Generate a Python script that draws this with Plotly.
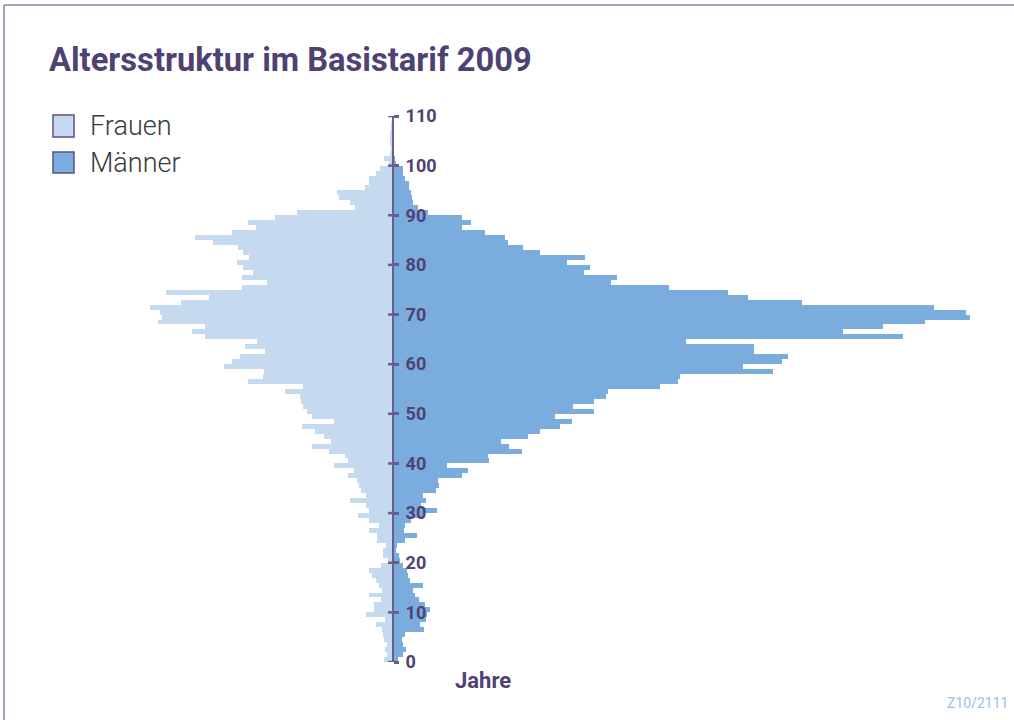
import plotly.graph_objects as go

# ---------------- data ----------------
ages = list(range(0, 110))

frauen = [9, 6, 8, 6, 9, 10, 11, 17, 8, 27,
          19, 19, 12, 24, 11, 14, 17, 21, 24, 12,
          5, 10, 10, 7, 16, 16, 24, 14, 24, 35,
          24, 27, 43, 27, 32, 34, 36, 45, 39, 59,
          45, 48, 64, 81, 62, 69, 78, 91, 59, 81,
          86, 90, 92, 93, 108, 90, 145, 130, 129, 169,
          161, 153, 128, 148, 136, 188, 201, 188, 235, 231,
          233, 243, 212, 184, 227, 151, 126, 151, 140, 150,
          156, 144, 150, 155, 180, 198, 161, 137, 145, 118,
          96, 38, 43, 54, 56, 28, 24, 24, 17, 13,
          4, 9, 3, 2, 3, 3, 3, 2, 2, 1]

maenner = [5, 10, 13, 10, 9, 12, 31, 27, 33, 34,
           37, 32, 26, 22, 20, 30, 17, 15, 14, 10,
           7, 6, 3, 4, 12, 24, 11, 12, 18, 30,
           44, 28, 33, 30, 43, 46, 45, 69, 75, 54,
           96, 95, 129, 116, 108, 135, 147, 167, 179, 162,
           201, 180, 201, 213, 215, 267, 285, 287, 380, 350,
           389, 395, 361, 361, 293, 510, 450, 490, 532, 577,
           573, 541, 409, 355, 335, 276, 218, 224, 191, 197,
           174, 192, 147, 130, 115, 112, 92, 69, 78, 69,
           35, 25, 20, 19, 18, 16, 16, 12, 10, 10,
           3, 2, 1, 1, 1, 1, 1, 1, 1, 1]

tick_vals = list(range(0, 111, 10))
series_names = ["Frauen", "Männer"]
title_text = "Altersstruktur im Basistarif 2009"
axis_title = "Jahre"
source_note = "Z10/2111"

# ---------------- style ----------------
W, H = 1014, 720
ML, MR, MT, MB = 100, 14, 116, 58
PW = W - ML - MR
PH = H - MT - MB
X_LEFT, X_RIGHT = -293, 607

C_F = "#c6daef"
C_M = "#7aaddd"
C_PURPLE = "#4f4273"
C_AXIS = "#6b5e8c"


def px_x(p):
    return (p - ML) / PW


def px_y(p):
    return (H - MB - p) / PH


fig = go.Figure()
fig.add_trace(go.Bar(
    y=ages, x=[-v for v in frauen], orientation="h", name=series_names[0],
    offset=0, width=1, marker=dict(color=C_F, line=dict(width=0)),
    customdata=frauen, hovertemplate="Alter %{y}: %{customdata}<extra>Frauen</extra>",
    showlegend=False,
))
fig.add_trace(go.Bar(
    y=ages, x=maenner, orientation="h", name=series_names[1],
    offset=0, width=1, marker=dict(color=C_M, line=dict(width=0)),
    hovertemplate="Alter %{y}: %{x}<extra>Männer</extra>",
    showlegend=False,
))

shapes = []
# tick marks crossing the centre axis
for t in tick_vals:
    shapes.append(dict(type="line", xref="x", yref="y", x0=-5, x1=5, y0=t, y1=t,
                       line=dict(color=C_AXIS, width=2.5), layer="above"))
# legend boxes
for (y0, y1), col in zip([(115, 137), (152, 173)], [C_F, C_M]):
    shapes.append(dict(type="rect", xref="paper", yref="paper",
                       x0=px_x(53), x1=px_x(74), y0=px_y(y1), y1=px_y(y0),
                       fillcolor=col, line=dict(color="#5d5080", width=1.5)))
# frame
shapes.append(dict(type="line", xref="paper", yref="paper",
                   x0=px_x(4), x1=px_x(1020), y0=px_y(5), y1=px_y(5),
                   line=dict(color="#8a819e", width=1.5)))
shapes.append(dict(type="line", xref="paper", yref="paper",
                   x0=px_x(4), x1=px_x(4), y0=px_y(5), y1=px_y(725),
                   line=dict(color="#8a819e", width=1.5)))

annotations = [
    dict(text=series_names[0], xref="paper", yref="paper", x=px_x(88), y=px_y(126),
         xanchor="left", yanchor="middle", showarrow=False,
         font=dict(family="Roboto", size=27, color="#3a3a3a", weight=300)),
    dict(text=series_names[1], xref="paper", yref="paper", x=px_x(88), y=px_y(163),
         xanchor="left", yanchor="middle", showarrow=False,
         font=dict(family="Roboto", size=27, color="#3a3a3a", weight=300)),
    dict(text="<b>%s</b>" % axis_title, xref="paper", yref="paper", x=px_x(483), y=px_y(680),
         xanchor="center", yanchor="middle", showarrow=False,
         font=dict(family="Roboto", size=22, color=C_PURPLE)),
    dict(text=source_note, xref="paper", yref="paper", x=px_x(1010), y=px_y(703),
         xanchor="right", yanchor="middle", showarrow=False,
         font=dict(family="Roboto", size=14, color="#9cc0e4")),
]

fig.update_layout(
    width=W, height=H,
    margin=dict(l=ML, r=MR, t=MT, b=MB, pad=0),
    paper_bgcolor="white", plot_bgcolor="white",
    barmode="overlay", bargap=0,
    title=dict(text="<b>%s</b>" % title_text, x=49 / W, xanchor="left",
               y=1 - 60 / H, yanchor="middle",
               font=dict(family="Roboto", size=32.7, color=C_PURPLE)),
    xaxis=dict(range=[X_LEFT, X_RIGHT], visible=False, fixedrange=True),
    yaxis=dict(range=[0, 110], anchor="free", position=px_x(393), side="right",
               showline=True, linecolor=C_AXIS, linewidth=2,
               ticks="outside", ticklen=5, tickwidth=2.5, tickcolor=C_AXIS,
               tickvals=tick_vals, ticklabelstandoff=3,
               tickfont=dict(family="Roboto", size=18, color=C_PURPLE, weight="bold"),
               showgrid=False, zeroline=False, fixedrange=True),
    shapes=shapes,
    annotations=annotations,
)

fig.write_html("out.html", config={"displayModeBar": False},
               post_script="document.body.style.margin='0px';")
